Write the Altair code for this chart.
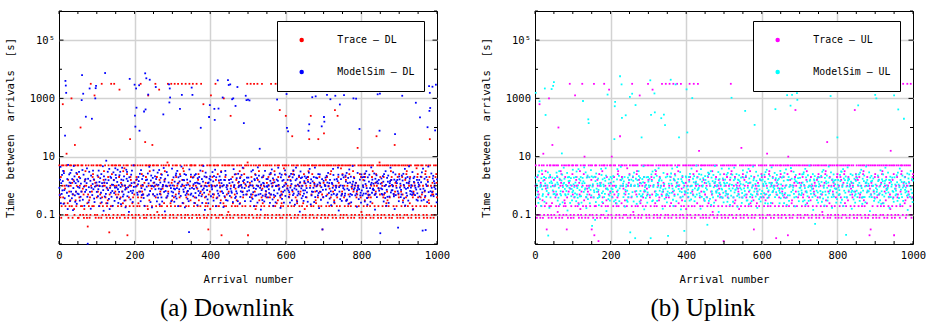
import altair as alt
import pandas as pd

# ---------------------------------------------------------------------------
# Data: one character per arrival (arrival number = position + 1).
# Character index in LEVELS gives log10(time between arrivals [s]) = -2 + 0.1*index
# For the ModelSim series a second string of digits adds hundredths of a decade.
# ---------------------------------------------------------------------------
LEVELS = "0123456789ABCDEFGHIJKLMNOPQRSTUVWXYZabcdefghijklmnopqrstuvwxyz"
LOG_MIN = -2.0
LOG_STEP = 0.1
FINE_STEP = 0.01

TRACE_DL = "".join([
    "RHAGN9DRKm" "GRPEKJDARV" "RAEM9KIDRF" "KRoDL9HMRC" "AYRFIDKOR9",
    "R9NGKAeDRI" "DRJAH9CKMP" "RKA9E6HRDF" "9GAtKRIDNO" "RDMpAL9KRG",
    "ARIN9KDRHE" "R9tGADKMPL" "KRGAE9DJFN" "RA4H9KDtRO" "DR9AMtKRIH",
    "RK9GADHRNr" "9RGLDAIKEP" "RAQ9KFDRJO" "3R9AGKDaNM" "KRAE9GDRHL",
    "R9AMNKDRGE" "AID9RtKGOI" "RKHA9LDZRN" "9RADCpKRFP" "RAK9JDYRHL",
    "RA9KtGDRNB" "KR9ArMDIHO" "RDAJ9KREMP" "9ARKGDStIR" "RK9AEDtLFM",
    "RA9GKtDRHN" "9RKAtLDIGO" "RDA9tMKQEP" "KR9AtDGRIL" "AHD9tKRFNR",
    "R9AtKNDRGE" "RKAt9JDMOF" "AR9DItKRHP" "RmA9KGDLEN" "9RDA5HKRIC",
    "Rp9AKNDGRH" "KRAtM9DRGO" "R9DLAKIFP3" "ARK9EoDRGN" "RD9HAKRBIM",
    "RA9iKGDRNE" "9RKAHDJOMF" "RDAL9KRPEN" "KR9ADIGQLO" "ARD9KRHtS3",
    "R9AKLDtRNG" "AHK9RtDIOC" "RD9AtMKRPF" "9RAKDGtJEN" "RKD9AHRIGL",
    "RA9NKDRGHO" "tR9AKLDMGP" "RDt9AEKRFN" "KRAk9GDIEH" "9RDAQKROLi",
    "R9AJKDRNGH" "AMK9DRbIOP" "RD9AtGKRFE" "9RAKNDLHIt" "RKD9AEROLC",
    "RA9KGDRMNP" "Ra9AKiDHRO" "ARD9LKRIFE" "R9KAGaDRNI" "KR9DAH5RGL",
    "cRA9KMDRNH" "9RKADJROGP" "RDA9IKRFEk" "AR9KDGiRNL" "RKD9AQRHIO",
    "R9AGKDRNMF" "ARK9DHROEt" "RD9AJKRPIN" "9RAKDLGIHX" "KRDA9ORGNB",
    "RA9KMDROFN" "R9KADIRHGt" "ARD9GKRNEP" "R9AKDHLIOb" "KRA9DJRSHN",
    "R9ALKDRGNH" "ARK9DERIFt" "RDA9GKRPMN" "9RAKDHRYIL" "RKDA9NRHGO",
    "RA9KIDRNHF" "9RKADMRGOP" "ARD9LKRENt" "R9AKDGCIHL" "KRA9DQRNOG",
    "RA9KrDGRNH" "rRKA9DIGOP" "RDA9MKRFEN" "aR9KDAHLIH" "9RKADNROLG",
])

MODEL_DL = "".join([
    "JGMQEKHNIL" "PDOIFbuspK" "HMCRJGNLEO" "KIPFMHBJQL" "NGEKIODMHJ",
    "LHOJEMGKIn" "wPFpNJDLHM" "hIKQG0MEJO" "rHLCNJhGKP" "IMFEJorsLH",
    "KNGIPDLJMF" "HOEKJQIBNL" "GwMHSJKEOI" "LFPCJNHMGK" "IDKOLHEJQN",
    "MJGLPIEKHN" "FOJDMKQIGL" "HNEKICJPMO" "GLJHBMuKFI" "NKPHEIRJLs",
    "ieJrkMHGKN" "LscOIEPJGM" "KHNFjDIwkL" "uJMGOpKHQu" "IELNJCKMHP",
    "JLGNIrMKEH" "OFKJPDHLMI" "GNEJKiQHLB" "MIKFOJGNHL" "smroKJEIPG",
    "KHMJELIGNO" "FJPKDMHILk" "NGJQpKEMIH" "LOCJGNKHMF" "IKE4PJLGNH",
    "rJpMGKIENL" "HOFJLDMKIG" "NKHPdJGMEI" "LQJHNBKOGM" "JIFKELhMlN",
    "MGKJIOHLEN" "kgPJDMFKIu" "HkLGNJEMOK" "IJoHCKMGLP" "NFJKIEuHsM",
    "KGsJMIHnLE" "oPJKNFlGIM" "HrEOJLKDMG" "IKNJHQLGfM" "JEKoHnMILn",
    "MJInGKEHOL" "KFPHJDMLGN" "IGKMEQJHNL" "WJHBKIMFGL" "NKEJPGIHMJ",
    "JMGKIHNELO" "HKPJFMDGIL" "NGEJKMnHLQ" "KIJOGCMHNF" "LJHMEKIPGN",
    "KpdJMcIGHN" "EJLOKFIMGP" "HNJDKLQIME" "GKIHNJBLOM" "JFMKGIEHLN",
    "IKGMJHNELc" "OfPJKDMGIo" "LHJNEKQGoM" "JIMKGOHCLN" "KHFJeM5IGL",
    "hgKJMIGNpL" "EOJHKFMnID" "GLKJPNHEMI" "oKJGMHLQNB" "JIlFKMGEHN",
    "KJMpIGHNLE" "OFJKMDIPGL" "HNEJGKQLoI" "MJKGLnHCIO" "JKFIdMGHEN",
    "IMGKJHNLEO" "KHPJFDMIGL" "NGJEKQLHMI" "JKIOGBMHLN" "GLpKJMIcp3",
    "KJMHIGNLEO" "JHFPKDIMGL" "NEJGKLQHMI" "KIJOHGMCbN" "GLJKMI5HEN",
    "MJKGIHNoLE" "OKFJPDMIHL" "GNJEKQLMIH" "JKIGOBHMLN" "KGJmIFMHEL",
    "JKMGhINLEO" "H4PJFrMIG4" "KNJEeLQHsj" "pkIGOJHsMN" "GLJKdIsHEM",
])

MODEL_DL_FINE = "".join([
    "3815092746" "1835720491" "6302859174" "9047316285" "2759048136",
    "5183962704" "0426871593" "7690214358" "4971530862" "8264705319",
    "1548203967" "6039875421" "3712649085" "9580316724" "2136958407",
    "7403581296" "5867142039" "0291763548" "4658097132" "8925430617",
    "1374826950" "6591074283" "3048517629" "9716238054" "2485960713",
    "7152893460" "5930462178" "0867351942" "4209785631" "8643127095",
    "1790548362" "6217093854" "3586241079" "9063872415" "2471605983",
    "7328459160" "5094136827" "0752984316" "4816270539" "8539016472",
    "0426871593" "4658097132" "3586241079" "1835720491" "7152893460",
    "9580316724" "0752984316" "4971530862" "1374826950" "2759048136",
    "8643127095" "1548203967" "9716238054" "7328459160" "5867142039",
    "6302859174" "0867351942" "8539016472" "3712649085" "7690214358",
    "6591074283" "2471605983" "3815092746" "7403581296" "1790548362",
    "4816270539" "5183962704" "5930462178" "8264705319" "8925430617",
    "6039875421" "2485960713" "9063872415" "9047316285" "5094136827",
    "0291763548" "4209785631" "2136958407" "6217093854" "3048517629",
    "4971530862" "6302859174" "8925430617" "0752984316" "1548203967",
    "7152893460" "9580316724" "5183962704" "3586241079" "8539016472",
    "2471605983" "1374826950" "6039875421" "4209785631" "1835720491",
    "7403581296" "7690214358" "5094136827" "9716238054" "4658097132",
])

TRACE_UL = "".join([
    "KRDG9NAIGH" "RmA9LKDROF" "9VRAMDKPJE" "5RKAH9oDRN" "RDA9EYKRIM",
    "ARKG9DRHNB" "ReD9AMKPLO" "R9KIADRFEN" "DRA5GK9RIL" "RtJA9DKROH",
    "R9AGKpDRMN" "KRDAE9LHPC" "RAI9tKDROF" "UR9ADGKJNI" "9RKHADRGM5",
    "RAK9Gt3DRN" "DRA9MKI1HO" "RK9LADRPGE" "ARtR9KDJFN" "R9DAHrKRIL",
    "RAU9GKDRNH" "KR9EADIGOP" "DRA9bMKREN" "R9KJADRFHI" "ARDQ9KGLMO",
    "R9AKGDtRNB" "ARK9IDRHOP" "RD9AMKpLEF" "9RAKDGRNIL" "RKDA9JRHtM",
    "RA9GKDRNMH" "rRK9ADIEOP" "RDA9LKRFGN" "9RAKHtDRIL" "KR9DAtGRHO",
    "RA9GKtDRNE" "9RKAItDMHO" "RDA9LtKRPE" "KR9AGtDJFN" "AR9DKHRILC",
    "R9AKGDRMtN" "ARK9DIRHOt" "RD9ALKRPEN" "tRAWKGD9RI" "KRDA9MRFLH",
    "RA9KGDRNEO" "9RKADIRHPB" "ARD9LKRFNI" "R9AKDMJLHG" "KRA9DGRM1O",
    "RA9IKDRNHG" "9RKADMRtOP" "ARD9GKRENF" "R9AKDLJIHC" "KRA9DXRGNO",
    "R9AMKDRNGH" "ARK9DIRLPE" "RD9AGKRF5N" "9RAKDJEIHL" "KRDA9MRGON",
    "RA9KGDRNHF" "9RKVADIGOP" "ARD9LKRENI" "R9AKDMR2HL" "KRA9DGJRNO",
    "R9AIKDRNGH" "ARK9DGRO3U" "RDA9MKRPEF" "9RAKDLRNkI" "KRD9AGRHLO",
    "RA9KLDRNGH" "9RKADIRMPE" "ARD9GtKRFN" "R9AKDJRIHL" "KRA9DMRGNO",
    "R9AGKDRNHB" "ARK9DLROPF" "RDZ9AIKREN" "9RAKDMRIHL" "KRDA9GJRNO",
    "RA9KHDRNGM" "9RKADLROPE" "ARD9GKRFNI" "R9AKDJRLHG" "KRA9DkIMON",
    "R9AMKDRNGH" "ARK9DGROPF" "RDA9LKRENI" "9RAK3JR5HL" "KRD9AIRGNO",
    "RA9KGDRNMH" "9RKADLROPE" "ARD9IKRFNJ" "R9AKDGRLHC" "WRA9DMRGO3",
    "R9AJKDRNGH" "ARtK9DIROP" "RDAtLKRENF" "9RAKtGRIHL" "KRDtA9MGNO",
])

MODEL_UL = "".join([
    "MpGKIJHNEL" "OnFJKDMPIG" "HLJNErKiMG" "IKJO2HMCLN" "GJLrKMIsHt",
    "JHMKGIONLE" "KFJPMDHIGL" "VNEJKQLMIH" "GKIJOBMHLN" "JLEKMGIFHP",
    "IKMJGHLNEO" "HJFKPDMIGL" "NGEJKMnLHQ" "KIJOGCMHNF" "gfJMEKIPGN",
    "6JKMGIHN8L" "EOJHKFMIDG" "GLKJPNHEMI" "KJGMHLQNBI" "JpIFKMGEHN",
    "KJMGIHNLEa" "lmFJKDMPIG" "HNEJvKQLsh" "MJKGLHNCIi" "JKFIEMGHLN",
    "o4JKMGpHNL" "EOJK2lMIDG" "LKJPNHEMIG" "KaGMHLQNBI" "JIFKMGEHNL",
    "KJMGu2iNLE" "OFJKMpjPIG" "HNEJGKQLMI" "MJKhLGHCIO" "iKFeJMGHEN",
    "I2GKJHNLuO" "KHPJFDMIGL" "NsJEKQLHMI" "aKIOGBMHLN" "GLJK4IEHNM",
    "rJcHIGNLEO" "JHFPKoIMGL" "NEJGKLQHMI" "KIJOHGMCPN" "GLJKMIFHEN",
    "MJKGI6NOLE" "OKFJPDMIHL" "GNJEKQLMIH" "JKIGOBHMLN" "KGJPIFMHEL",
    "JKMGIHNLEO" "HFPJKDMIGo" "KNJEGLQHMI" "IKOJGCMHLN" "GLJKMIEHFP",
    "KMJGIjHNLE" "OFJKPDMIGL" "HNEJGKQLMI" "eJKGOLHCIN" "JKFIMGEHLN",
    "IMGKJHNLEO" "KHPJFDMIGL" "NGJEKQLHMI" "JKIOGkMHLN" "GLJKMIEHPF",
    "KJMHIGNLEO" "JHFPKDpMGL" "NEJGKlQHMp" "KIJOHGMCLN" "GLpnKMIEHJ",
    "MJKGIHNLEO" "OKFJPDMIHL" "GNJEKQLMIH" "JKIGOBHMLN" "6GJKIFMHEL",
    "JKMGIHNLEO" "HFPJKDMIGL" "KNJEGLQHMI" "IoOJGCMHLN" "GLJKMIEHFa",
    "KMJGIHNLEO" "OFJKPDMIGL" "HN3JGKQLMI" "MJKGOLHCIN" "JKFIMGEHLN",
    "IMGKlHNLEO" "KHPJFDMIGL" "NGJEKQLHMI" "JKIOGBMHLN" "GLJKMIEHFp",
    "KJoHIGNLEM" "JHFPKDIMGL" "NEJGKLQHMI" "KIJOHGMCLN" "GLJKMIFHEp",
    "MJKGIHNLEO" "kKFJPDMIHL" "GNJEKhLMIH" "JKIGOBHMLN" "KGJPIFMHEL",
])

MODEL_UL_FINE = "".join([
    "8925430617" "9047316285" "1790548362" "2136958407" "0752984316",
    "8264705319" "5930462178" "1835720491" "7328459160" "3712649085",
    "3586241079" "0291763548" "0426871593" "9716238054" "8539016472",
    "2759048136" "4209785631" "6039875421" "4816270539" "1374826950",
    "7152893460" "3815092746" "2471605983" "4971530862" "7403581296",
    "5094136827" "6591074283" "9580316724" "8643127095" "5183962704",
    "1548203967" "9063872415" "2485960713" "6302859174" "4658097132",
    "0867351942" "7690214358" "5867142039" "6217093854" "3048517629",
    "1835720491" "8539016472" "3712649085" "5930462178" "2471605983",
    "0291763548" "2759048136" "0752984316" "8264705319" "4209785631",
    "9716238054" "1790548362" "3815092746" "7403581296" "0426871593",
    "4816270539" "6039875421" "1374826950" "9063872415" "9047316285",
    "2136958407" "7152893460" "4971530862" "5094136827" "8925430617",
    "5183962704" "3586241079" "0867351942" "1548203967" "2485960713",
    "7328459160" "6302859174" "4658097132" "6591074283" "9580316724",
    "7690214358" "8643127095" "8539016472" "5867142039" "3815092746",
    "3048517629" "8264705319" "6217093854" "2759048136" "5930462178",
    "3712649085" "0752984316" "5183962704" "9716238054" "1790548362",
    "4209785631" "7403581296" "9063872415" "1835720491" "1374826950",
    "9047316285" "2485960713" "1548203967" "4816270539" "0291763548",
])

SERIES_DL = ["Trace \u2013 DL", "ModelSim \u2013 DL"]
SERIES_UL = ["Trace \u2013 UL", "ModelSim \u2013 UL"]
COLORS_DL = ["#ff0000", "#0000ff"]
COLORS_UL = ["#ff00ff", "#00ffff"]
CAPTIONS = ["(a) Downlink", "(b) Uplink"]

X_DOMAIN = [0, 1000]
Y_DOMAIN = [0.01, 1000000]
X_LABEL_VALUES = [0, 200, 400, 600, 800, 1000]
X_TICK_VALUES = [0, 50, 100, 150, 200, 250, 300, 350, 400, 450, 500,
                 550, 600, 650, 700, 750, 800, 850, 900, 950, 1000]
Y_LABEL_VALUES = [0.1, 10, 1000, 100000]
Y_MINOR_TICKS = [0.01, 1, 100, 10000, 1000000]

Y_TITLE = "Time\u00a0\u00a0between\u00a0\u00a0arrivals\u00a0\u00a0[s]"
X_TITLE = "Arrival number"
MONO = "DejaVu Sans Mono"

W, H = 378, 233


def decode(coarse, fine=""):
    out = []
    for i, c in enumerate(coarse):
        d = int(fine[i]) if i < len(fine) else 0
        out.append(10 ** (LOG_MIN + LOG_STEP * LEVELS.index(c) + FINE_STEP * d))
    return out


def panel(trace, model, model_fine, names, colors, caption):
    rows = []
    for name, vals in ((names[0], decode(trace)), (names[1], decode(model, model_fine))):
        for i, v in enumerate(vals):
            rows.append({"arrival": i + 1, "value": v, "series": name})
    df = pd.DataFrame(rows)

    xs = alt.Scale(domain=X_DOMAIN, nice=False, zero=False)
    ys = alt.Scale(type="log", domain=Y_DOMAIN, nice=False)

    x_axis = alt.Axis(
        values=X_LABEL_VALUES, title=X_TITLE, ticks=False, tickSize=0,
        domain=False, labelFlush=False, labelOverlap=False, labelPadding=6,
        titlePadding=14, labelExpr="format(datum.value, 'd')",
        gridColor={"condition": {"test": "datum.value > 0 && datum.value < 1000",
                                 "value": "#d2d2d2"}, "value": "transparent"},
    )
    y_axis = alt.Axis(
        values=Y_LABEL_VALUES, title=Y_TITLE, ticks=False, tickSize=0,
        domain=False, labelOverlap=False, labelPadding=4.5, titlePadding=14,
        labelExpr="datum.value >= 100000 ? '10\u2075' : (datum.value < 1 ? '0.1' : format(datum.value, 'd'))",
    )

    X = alt.X("arrival:Q", scale=xs, axis=x_axis)
    Y = alt.Y("value:Q", scale=ys, axis=y_axis)

    points = alt.Chart(df).mark_square(size=3.2, opacity=1).encode(
        x=X, y=Y,
        color=alt.Color(
            "series:N",
            scale=alt.Scale(domain=names, range=colors),
            legend=alt.Legend(
                title=None, orient="none", legendX=218, legendY=10,
                fillColor="white", strokeColor="black", padding=9,
                clipHeight=20, rowPadding=12,
                symbolType="circle", symbolSize=20, symbolOffset=10.75,
                labelOffset=30.75, labelFont=MONO,
                labelFontSize=9.85, labelColor="black", symbolStrokeWidth=0,
                cornerRadius=0, zindex=1,
            ),
        ),
    )

    xt = pd.DataFrame({"arrival": X_TICK_VALUES})
    ymaj = pd.DataFrame({"value": Y_LABEL_VALUES})
    ymin = pd.DataFrame({"value": Y_MINOR_TICKS})

    def rule(d):
        return alt.Chart(d).mark_rule(color="black", strokeWidth=1)

    bottom = rule(xt).encode(x=X, y=alt.value(H), y2=alt.value(H - 3))
    top = rule(xt).encode(x=X, y=alt.value(0), y2=alt.value(3))
    lmaj = rule(ymaj).encode(y=Y, x=alt.value(0), x2=alt.value(4.5))
    rmaj = rule(ymaj).encode(y=Y, x=alt.value(W), x2=alt.value(W - 4.5))
    lmin = rule(ymin).encode(y=Y, x=alt.value(0), x2=alt.value(3))
    rmin = rule(ymin).encode(y=Y, x=alt.value(W), x2=alt.value(W - 3))

    return alt.layer(points, bottom, top, lmaj, rmaj, lmin, rmin).properties(
        width=W, height=H,
        title=alt.TitleParams(
            caption, orient="bottom", font="Liberation Serif", fontSize=25,
            fontWeight="normal", color="black", offset=12, anchor="middle",
            frame="bounds",
        ),
    )


left = panel(TRACE_DL, MODEL_DL, MODEL_DL_FINE, SERIES_DL, COLORS_DL, CAPTIONS[0])
right = panel(TRACE_UL, MODEL_UL, MODEL_UL_FINE, SERIES_UL, COLORS_UL, CAPTIONS[1])

chart = (
    alt.hconcat(left, right, spacing=28)
    .resolve_scale(color="independent")
    .resolve_legend(color="independent")
    .properties(padding={"left": 3, "top": 10, "right": 0, "bottom": 0},
                background="white")
    .configure_view(stroke="black", strokeWidth=1)
    .configure_axis(
        labelFont=MONO, labelFontSize=10.5, labelColor="black",
        titleFont=MONO, titleFontSize=10.7, titleFontWeight="normal",
        titleColor="black", gridColor="#d2d2d2", gridWidth=1.5,
    )
)

chart.save("out.html", embed_options={"renderer": "svg", "actions": False})
